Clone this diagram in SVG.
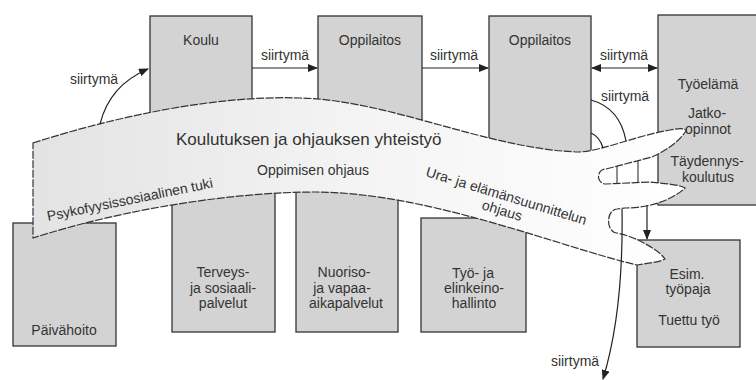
<svg xmlns="http://www.w3.org/2000/svg" width="756" height="380" viewBox="0 0 756 380">
<style>
.box{fill:#d3d3d3;stroke:#333;stroke-width:1.3}
.lbl{font-family:"Liberation Sans",Arial,sans-serif;font-size:14px;fill:#333;text-anchor:middle}
.btxt{font-family:"Liberation Sans",Arial,sans-serif;font-size:14px;fill:#333}
.conn{fill:none;stroke:#222;stroke-width:1.2}
.band{fill:url(#bandGrad);stroke:#333;stroke-width:1.2;stroke-dasharray:8 1.5}
.crease{fill:none;stroke:#333;stroke-width:1.1}
</style>
<defs>
<linearGradient id="bandGrad" gradientUnits="userSpaceOnUse" x1="33" y1="0" x2="690" y2="0">
<stop offset="0" stop-color="#e3e3e3"/>
<stop offset="0.5" stop-color="#f4f4f4"/>
<stop offset="1" stop-color="#ffffff"/>
</linearGradient>
<marker id="arr" markerUnits="userSpaceOnUse" markerWidth="10" markerHeight="8" refX="9" refY="4" orient="auto-start-reverse">
<path d="M0,0 L10,4 L0,8 z" fill="#222"/>
</marker>
</defs>
<rect width="756" height="380" fill="#fff"/>

<g id="koulu"><rect class="box" x="150" y="16" width="102" height="170"/><text class="lbl" x="201" y="45">Koulu</text></g>
<g id="oppilaitos1"><rect class="box" x="318" y="16" width="104" height="150"/><text class="lbl" x="370" y="45">Oppilaitos</text></g>
<g id="oppilaitos2"><rect class="box" x="489" y="16" width="102" height="180"/><text class="lbl" x="540" y="45">Oppilaitos</text></g>
<g id="tyoelama"><rect class="box" x="658" y="15" width="110" height="190"/>
<text class="lbl" x="708" y="89">Työelämä</text>
<text class="lbl" x="707" y="118">Jatko-</text>
<text class="lbl" x="708" y="134">opinnot</text>
<text class="lbl" x="707" y="166">Täydennys-</text>
<text class="lbl" x="708" y="182">koulutus</text></g>
<g id="paivahoito"><rect class="box" x="13" y="223" width="103" height="123"/><text class="lbl" x="64" y="335">Päivähoito</text></g>
<g id="terveys"><rect class="box" x="172" y="160" width="103" height="172"/>
<text class="lbl" x="223" y="277">Terveys-</text>
<text class="lbl" x="223" y="293">ja sosiaali-</text>
<text class="lbl" x="223" y="308">palvelut</text></g>
<g id="nuoriso"><rect class="box" x="296" y="160" width="102" height="172"/>
<text class="lbl" x="344" y="277">Nuoriso-</text>
<text class="lbl" x="342" y="293">ja vapaa-</text>
<text class="lbl" x="346" y="308">aikapalvelut</text></g>
<g id="tyoja"><rect class="box" x="421" y="218" width="105" height="114"/>
<text class="lbl" x="473" y="278">Työ- ja</text>
<text class="lbl" x="474" y="293">elinkeino-</text>
<text class="lbl" x="474" y="308">hallinto</text></g>
<g id="esim"><rect class="box" x="637" y="240" width="103" height="107"/>
<text class="lbl" x="687" y="279">Esim.</text>
<text class="lbl" x="688" y="294">työpaja</text>
<text class="lbl" x="689" y="325">Tuettu työ</text></g>

<g id="band">
<path class="band" d="M33,143 C120,115 220,95 300,98 C390,100 490,150 580,152 C605,150 635,136 670,130 Q686,127 686,131 C680,140 668,150 652,157 L606,169 A7.5,7.5 0 0 0 606,184 L650,182 C670,184 680,185 685,188 C680,193 670,199 658,203 C650,206 635,208 625,208 L617,209 A8.5,12 0 0 0 617,233 C625,235 632,237 638,240 C650,246 660,252 665,259 C660,262 650,263 637,265 C560,247 430,193 317,192 C230,192 120,210 33,238 Z"/>
<line class="crease" x1="617" y1="166" x2="617" y2="184"/>
<line class="crease" x1="638" y1="161" x2="638" y2="182"/>
<text class="btxt" x="176" y="145" style="font-size:17px">Koulutuksen ja ohjauksen yhteistyö</text>
<text class="btxt" x="257" y="175">Oppimisen ohjaus</text>
<text class="btxt" x="48" y="221" transform="rotate(-11.5 48 221)">Psykofyysissosiaalinen tuki</text>
<text class="btxt" x="425" y="176" transform="rotate(17 425 176)">Ura- ja elämänsuunnittelun</text>
<text class="btxt" x="481" y="209" transform="rotate(17 481 209)">ohjaus</text>
</g>

<g id="connectors">
<path class="conn" d="M100,124 C106,100 122,80 148,69" marker-end="url(#arr)"/>
<line class="conn" x1="252" y1="68" x2="317" y2="68" marker-end="url(#arr)"/>
<line class="conn" x1="422" y1="68" x2="488" y2="68" marker-end="url(#arr)"/>
<line class="conn" x1="592" y1="68" x2="657" y2="68" marker-start="url(#arr)" marker-end="url(#arr)"/>
<path class="conn" d="M591,100 Q620,108 626,141"/>
<path class="conn" d="M591,133 Q600,137 603,148"/>
<line class="conn" x1="647" y1="205" x2="647" y2="239" marker-end="url(#arr)"/>
<path class="conn" d="M622,209 C623,270 618,330 603,379" marker-end="url(#arr)"/>
<text class="lbl" x="94" y="84">siirtymä</text>
<text class="lbl" x="285" y="60">siirtymä</text>
<text class="lbl" x="454" y="60">siirtymä</text>
<text class="lbl" x="624" y="60">siirtymä</text>
<text class="lbl" x="625" y="101">siirtymä</text>
<text class="lbl" x="575" y="366">siirtymä</text>
</g>
</svg>
